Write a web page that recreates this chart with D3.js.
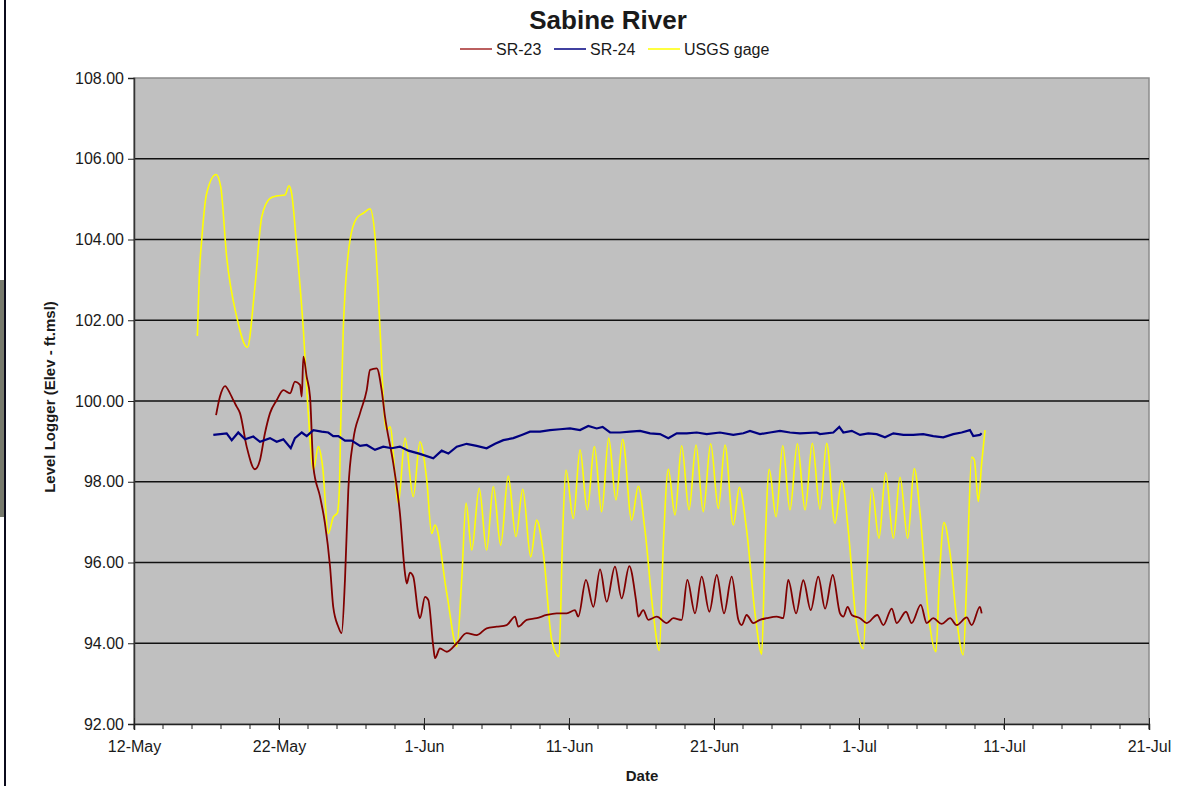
<!DOCTYPE html>
<meta charset="utf-8">
<script src="https://d3js.org/d3.v7.min.js"></script>
<style>
html, body { margin: 0; background: #fff; }
text { font-family: Arial, "Liberation Sans", sans-serif; fill: #1a1a1a; }
</style>
<body>
<div id="chart"></div>
<script>

// days after 12-May, level (ft msl)
var sr23 = [[5.66,99.65],[5.93,100.11],[6.28,100.37],[6.62,100.19],[6.85,100.02],[7.08,99.86],[7.31,99.70],[7.77,98.87],[8.34,98.31],[8.69,98.54],[9.03,99.20],[9.38,99.70],[9.84,100.02],[10.30,100.27],[10.76,100.19],[11.10,100.48],[11.45,100.40],[11.57,100.11],[11.68,101.10],[11.91,100.60],[12.14,100.11],[12.37,98.37],[12.83,97.63],[13.17,96.97],[13.52,95.90],[13.74,94.90],[14.09,94.41],[14.32,94.25],[14.55,95.57],[14.78,97.80],[15.12,99.03],[15.59,99.70],[16.05,100.27],[16.28,100.77],[16.74,100.81],[17.08,100.27],[17.31,99.61],[17.88,98.46],[18.34,97.22],[18.69,95.73],[18.81,95.48],[19.03,95.75],[19.26,95.65],[19.61,94.74],[19.72,94.62],[20.07,95.15],[20.30,95.07],[20.64,93.92],[20.76,93.63],[21.10,93.87],[21.57,93.79],[22.26,94.00],[22.94,94.25],[23.63,94.20],[24.32,94.37],[25.01,94.41],[25.70,94.45],[26.28,94.66],[26.50,94.41],[27.08,94.58],[27.77,94.62],[28.46,94.70],[29.15,94.74],[29.84,94.74],[30.41,94.82],[30.64,94.66],[31.17,95.57],[31.68,94.90],[32.14,95.83],[32.60,95.03],[33.17,95.90],[33.63,95.11],[34.16,95.91],[34.62,95.07],[34.78,94.66],[35.12,94.82],[35.47,94.58],[36.05,94.66],[36.74,94.50],[37.19,94.62],[37.77,94.58],[38.16,95.57],[38.69,94.74],[39.15,95.65],[39.68,94.78],[40.19,95.69],[40.69,94.74],[41.22,95.65],[41.68,94.58],[41.91,94.45],[42.25,94.70],[42.71,94.50],[43.17,94.58],[43.63,94.62],[44.32,94.66],[44.78,94.62],[45.12,95.57],[45.66,94.74],[46.16,95.56],[46.67,94.82],[47.19,95.65],[47.66,94.86],[48.19,95.69],[48.69,94.74],[48.92,94.66],[49.22,94.90],[49.50,94.70],[50.07,94.62],[50.53,94.50],[51.26,94.70],[51.68,94.45],[52.26,94.86],[52.60,94.50],[53.24,94.78],[53.63,94.50],[54.26,94.95],[54.67,94.50],[55.12,94.62],[55.70,94.48],[56.28,94.62],[56.74,94.45],[57.43,94.64],[57.77,94.45],[58.34,94.90],[58.46,94.74]];

var sr24 = [[5.47,99.16],[6.39,99.20],[6.74,99.03],[7.19,99.22],[7.66,99.05],[8.23,99.12],[8.69,98.99],[9.38,99.08],[9.84,98.99],[10.30,99.05],[10.81,98.83],[11.10,99.08],[11.57,99.22],[11.91,99.13],[12.37,99.28],[12.94,99.24],[13.40,99.22],[13.74,99.13],[14.09,99.13],[14.55,99.02],[15.01,99.02],[15.59,98.89],[16.05,98.91],[16.62,98.79],[17.19,98.87],[17.77,98.83],[18.34,98.87],[18.92,98.77],[19.72,98.69],[20.64,98.58],[21.22,98.77],[21.68,98.70],[22.26,98.87],[22.94,98.94],[23.63,98.89],[24.32,98.83],[24.90,98.94],[25.47,99.03],[26.16,99.08],[26.74,99.16],[27.31,99.24],[28.00,99.24],[28.69,99.28],[29.38,99.30],[30.07,99.32],[30.76,99.28],[31.33,99.38],[31.91,99.32],[32.32,99.36],[32.83,99.22],[33.52,99.22],[34.21,99.24],[34.90,99.26],[35.59,99.20],[36.28,99.18],[36.85,99.08],[37.43,99.20],[38.12,99.20],[38.81,99.22],[39.50,99.18],[40.41,99.22],[41.33,99.16],[42.02,99.20],[42.48,99.26],[43.17,99.18],[43.86,99.22],[44.55,99.26],[45.24,99.22],[45.93,99.20],[47.08,99.22],[47.31,99.18],[48.23,99.22],[48.64,99.36],[48.92,99.22],[49.50,99.26],[50.07,99.16],[50.64,99.20],[51.22,99.18],[51.79,99.10],[52.37,99.20],[53.06,99.16],[53.74,99.16],[54.43,99.18],[55.12,99.13],[55.81,99.10],[56.50,99.18],[57.08,99.22],[57.65,99.28],[57.88,99.13],[58.34,99.16],[58.46,99.20]];

var usgs = [[4.37,101.61],[4.50,103.08],[4.67,103.99],[5.01,105.14],[5.66,105.61],[5.98,105.31],[6.39,103.57],[7.08,102.09],[7.82,101.33],[8.34,102.83],[8.81,104.56],[9.38,105.02],[9.84,105.08],[10.41,105.10],[10.69,105.33],[10.87,105.14],[11.22,103.82],[11.68,101.76],[12.02,99.70],[12.37,98.29],[12.71,98.87],[13.01,98.37],[13.40,96.72],[13.75,97.13],[14.02,97.22],[14.16,97.80],[14.25,99.28],[14.43,101.76],[14.90,103.99],[15.36,104.53],[15.81,104.65],[16.28,104.76],[16.62,104.07],[16.97,101.76],[17.31,99.45],[17.43,99.28],[17.66,99.36],[18.23,97.47],[18.69,99.08],[19.26,97.63],[19.72,98.99],[20.19,98.04],[20.53,96.72],[20.76,96.93],[21.57,95.24],[22.26,93.92],[22.60,95.57],[22.90,97.47],[23.29,96.31],[23.81,97.84],[24.32,96.31],[24.78,97.88],[25.29,96.43],[25.81,98.14],[26.34,96.64],[26.81,97.81],[27.36,96.14],[27.77,97.05],[28.23,96.23],[28.81,94.08],[29.31,93.67],[29.57,96.80],[29.79,98.29],[30.30,97.09],[30.76,98.79],[31.26,97.30],[31.75,98.87],[32.25,97.26],[32.74,99.08],[33.24,97.55],[33.70,99.05],[34.32,97.05],[34.78,97.89],[35.24,96.80],[35.81,94.74],[36.23,93.82],[36.50,96.39],[36.85,98.31],[37.31,97.18],[37.77,98.89],[38.28,97.30],[38.76,98.91],[39.26,97.26],[39.77,98.94],[40.30,97.34],[40.76,98.91],[41.33,96.93],[41.75,97.86],[42.25,96.80],[42.83,94.74],[43.29,93.73],[43.52,96.39],[43.81,98.31],[44.28,97.13],[44.74,98.89],[45.24,97.30],[45.75,98.94],[46.28,97.30],[46.78,98.95],[47.31,97.32],[47.77,98.95],[48.34,96.97],[48.81,98.03],[49.26,96.80],[49.79,94.58],[50.30,93.87],[50.57,95.98],[50.88,97.84],[51.38,96.60],[51.84,98.22],[52.37,96.60],[52.83,98.11],[53.36,96.60],[53.81,98.33],[54.21,97.22],[54.78,94.74],[55.31,93.79],[55.54,95.57],[55.86,96.99],[56.28,96.23],[56.74,94.58],[57.19,93.71],[57.43,95.57],[57.77,98.61],[57.95,98.54],[58.23,97.51],[58.46,98.46],[58.69,99.28]];

var seriesNames = ["SR-23", "SR-24", "USGS gage"];
var seriesColors = ["#800000", "#000080", "#ffff00"];
var xTickLabels = ["12-May", "22-May", "1-Jun", "11-Jun", "21-Jun", "1-Jul", "11-Jul", "21-Jul"];
var yTicks = [92, 94, 96, 98, 100, 102, 104, 106, 108];

var width = 1194, height = 786;
var margin = {top: 78, right: 45, bottom: 62, left: 134};
var startDate = new Date(2008, 4, 12);
function toDate(d) { return new Date(startDate.getTime() + d * 86400000); }

var svg = d3.select("#chart").append("svg")
    .attr("width", width)
    .attr("height", height);

// frame edge on the left of the screenshot
svg.append("rect").attr("x", 0).attr("y", 280).attr("width", 4).attr("height", 237).attr("fill", "#76796c");
svg.append("line").attr("x1", 5).attr("x2", 5).attr("y1", 0).attr("y2", height)
    .attr("stroke", "#0b0b1c").attr("stroke-width", 2);

var x = d3.scaleTime()
    .domain([startDate, toDate(70)])
    .range([margin.left, width - margin.right]);
var y = d3.scaleLinear()
    .domain([92, 108])
    .range([height - margin.bottom, margin.top]);

// plot area
svg.append("rect")
    .attr("x", margin.left).attr("y", margin.top)
    .attr("width", width - margin.left - margin.right)
    .attr("height", height - margin.top - margin.bottom)
    .attr("fill", "#c0c0c0")
    .attr("stroke", "#8c8c8c").attr("stroke-width", 1.5);

// gridlines
svg.append("g").selectAll("line")
    .data(yTicks.slice(1, -1))
    .enter().append("line")
    .attr("x1", margin.left).attr("x2", width - margin.right)
    .attr("y1", function(d) { return y(d); }).attr("y2", function(d) { return y(d); })
    .attr("stroke", "#111").attr("stroke-width", 1.5);

// lines
var line = d3.line()
    .x(function(d) { return x(toDate(d[0])); })
    .y(function(d) { return y(d[1]); });

var smooth = d3.line()
    .curve(d3.curveMonotoneX)
    .x(function(d) { return x(toDate(d[0])); })
    .y(function(d) { return y(d[1]); });

svg.append("path").datum(usgs)
    .attr("d", smooth).attr("fill", "none")
    .attr("stroke", seriesColors[2]).attr("stroke-width", 1.6);
svg.append("path").datum(sr23)
    .attr("d", smooth).attr("fill", "none")
    .attr("stroke", seriesColors[0]).attr("stroke-width", 1.8);
svg.append("path").datum(sr24)
    .attr("d", line).attr("fill", "none")
    .attr("stroke", seriesColors[1]).attr("stroke-width", 2.2);

// y axis
var yAxis = d3.axisLeft(y)
    .tickValues(yTicks)
    .tickSize(6)
    .tickFormat(d3.format(".2f"));
var gy = svg.append("g")
    .attr("transform", "translate(" + margin.left + ",0)")
    .call(yAxis);
gy.select(".domain").attr("stroke", "#333").attr("stroke-width", 1.5);
gy.selectAll(".tick line").attr("stroke", "#222");
gy.selectAll("text").attr("font-size", 16).attr("fill", "#222").attr("dx", -1)
    .attr("font-family", "Arial, 'Liberation Sans', sans-serif");

// x axis: minor ticks every 2 days, major crossing ticks every 10 days
var minor = d3.range(0, 71, 2).map(toDate);
var major = d3.range(0, 71, 10).map(toDate);
var base = height - margin.bottom;

svg.append("g").selectAll("line")
    .data(minor).enter().append("line")
    .attr("x1", function(d) { return x(d); }).attr("x2", function(d) { return x(d); })
    .attr("y1", base).attr("y2", base + 5)
    .attr("stroke", "#222");

var xAxis = d3.axisBottom(x)
    .tickValues(major)
    .tickSize(6)
    .tickFormat(function(d, i) { return xTickLabels[i]; });
var gx = svg.append("g")
    .attr("transform", "translate(0," + base + ")")
    .call(xAxis);
gx.select(".domain").attr("stroke", "#222").attr("stroke-width", 1.5);
gx.selectAll(".tick line").attr("y1", -6).attr("stroke", "#222");
gx.selectAll("text").attr("font-size", 16).attr("fill", "#222").attr("y", 17)
    .attr("font-family", "Arial, 'Liberation Sans', sans-serif");

// titles
svg.append("text")
    .attr("x", 608).attr("y", 29)
    .attr("text-anchor", "middle")
    .attr("font-size", 26).attr("font-weight", "bold").attr("fill", "#000")
    .text("Sabine River");

svg.append("text")
    .attr("x", 642).attr("y", 781)
    .attr("text-anchor", "middle")
    .attr("font-size", 15).attr("font-weight", "bold")
    .text("Date");

svg.append("text")
    .attr("transform", "translate(55,397) rotate(-90)")
    .attr("text-anchor", "middle")
    .attr("font-size", 15).attr("font-weight", "bold")
    .text("Level Logger (Elev - ft.msl)");

// legend
var legendX = [460, 554, 648];
var legend = svg.append("g").selectAll("g")
    .data(seriesNames).enter().append("g")
    .attr("transform", function(d, i) { return "translate(" + legendX[i] + ",49)"; });
legend.append("line")
    .attr("x1", 0).attr("x2", 32)
    .attr("stroke", function(d, i) { return i === 0 ? "#a52a2a" : seriesColors[i]; })
    .attr("stroke-width", 1.5);
legend.append("text")
    .attr("x", 36).attr("y", 6)
    .attr("font-size", 16)
    .text(function(d) { return d; });

</script>
</body>
